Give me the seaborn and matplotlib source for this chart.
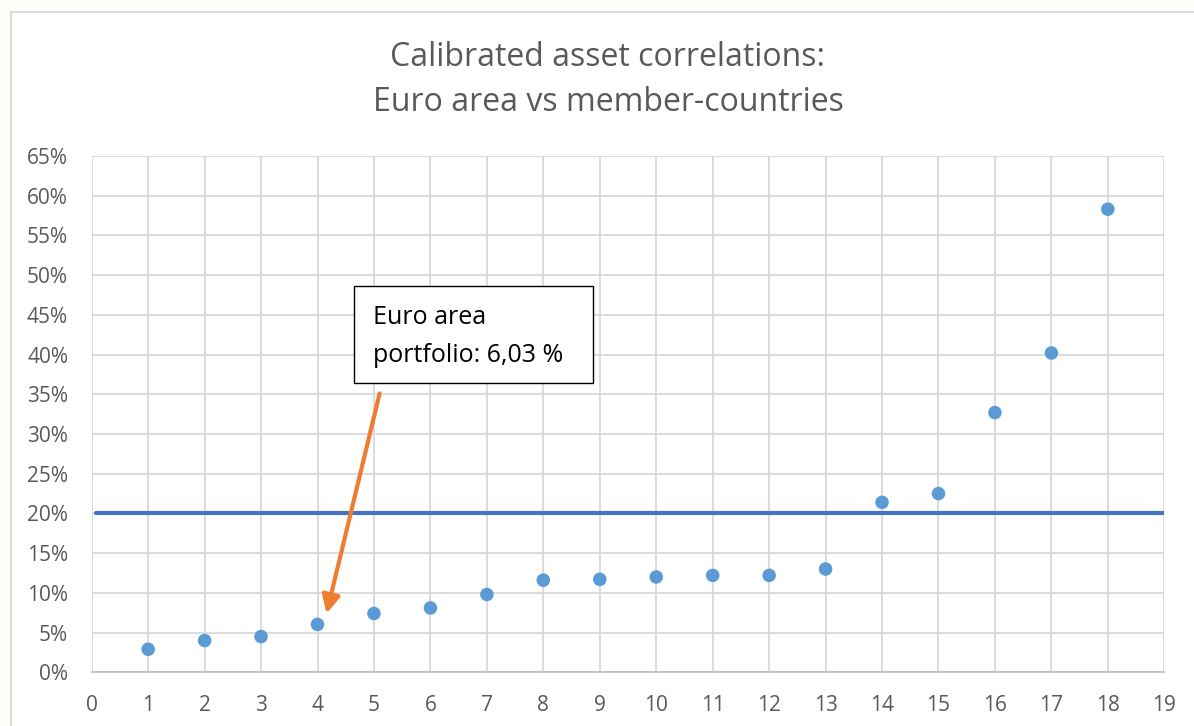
import matplotlib
matplotlib.use("Agg")
import matplotlib.pyplot as plt
import matplotlib.patches as mpatches
from matplotlib.ticker import PercentFormatter, MultipleLocator
import seaborn as sns
import pandas as pd

# ---- data ----
countries = list(range(1, 19))
correlations = [0.029, 0.040, 0.045, 0.0603, 0.074, 0.081, 0.098, 0.116, 0.117,
                0.120, 0.122, 0.122, 0.130, 0.214, 0.225, 0.327, 0.402, 0.583]
threshold_x = [0.07, 19]
threshold_y = [0.20, 0.20]
title_lines = ["Calibrated asset correlations:", "Euro area vs member-countries"]
annotation_text = "Euro area\nportfolio: 6,03 %"

df = pd.DataFrame({"country": countries, "corr": correlations})
thr = pd.DataFrame({"x": threshold_x, "y": threshold_y})

sns.set_theme(style="white")
plt.rcParams['font.family'] = ['Open Sans', 'DejaVu Sans']

W, H = 1194, 726
fig = plt.figure(figsize=(W / 100, H / 100), dpi=100, facecolor="#fefef9")

# chart area background with light border (left & top visible)
bg = mpatches.Rectangle((11 / W, -0.05), 1.2, 1 - 12 / H + 0.05, transform=fig.transFigure,
                        facecolor="white", edgecolor="#d9d9d9", linewidth=1.5, zorder=-10)
fig.patches.append(bg)

ax = fig.add_axes([91.7 / W, 1 - 672.3 / H, (1164.3 - 91.7) / W, (672.3 - 156) / H])
ax.set_facecolor("white")

sns.lineplot(data=thr, x="x", y="y", ax=ax, color="#4472C4", linewidth=3.0, zorder=3)
sns.scatterplot(data=df, x="country", y="corr", ax=ax, color="#5B9BD5", s=95,
                edgecolor="none", linewidth=0, zorder=4)

ax.set_xlim(0, 19)
ax.set_ylim(0, 0.65)
ax.xaxis.set_major_locator(MultipleLocator(1))
ax.yaxis.set_major_locator(MultipleLocator(0.05))
ax.yaxis.set_major_formatter(PercentFormatter(1.0, decimals=0))
ax.grid(True, color="#d9d9d9", linewidth=1.3)
ax.set_axisbelow(True)
for s in ["top", "right", "left"]:
    ax.spines[s].set_visible(False)
ax.spines["bottom"].set_color("#bfbfbf")
ax.spines["bottom"].set_linewidth(1.3)
ax.tick_params(axis="y", length=0, labelsize=15, labelcolor="#595959", pad=17)
ax.tick_params(axis="x", length=0, labelsize=15, labelcolor="#595959", pad=16)
ax.set_xlabel("")
ax.set_ylabel("")

# title
fig.text(608 / W, 1 - 80 / H, "\n".join(title_lines), ha="center", va="center",
         fontsize=23, color="#595959", linespacing=1.48)

# annotation box and text
box = mpatches.Rectangle((354 / W, 1 - 383 / H), 239 / W, 97 / H, transform=fig.transFigure,
                         facecolor="white", edgecolor="#000000", linewidth=1.0, zorder=5)
fig.patches.append(box)
fig.text(373 / W, 1 - 336.5 / H, annotation_text, ha="left", va="center", fontsize=18,
         color="#000000", linespacing=1.72, zorder=6)

# arrow
ax.annotate("", xy=(4.16, 0.074), xytext=(5.10, 0.351),
            arrowprops=dict(arrowstyle="-|>,head_length=0.9,head_width=0.45",
                            color="#ED7D31", linewidth=3.0, shrinkA=0, shrinkB=0),
            zorder=6)

fig.savefig("out.png", dpi=100, facecolor=fig.get_facecolor())
